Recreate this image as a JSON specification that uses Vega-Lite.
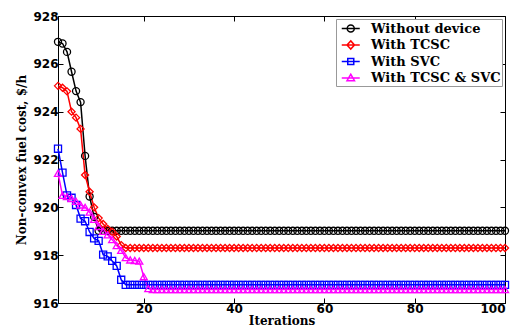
{
"$schema":"https://vega.github.io/schema/vega-lite/v6.json",
"width":447,"height":287,
"autosize":{"type":"none"},
"padding":{"left":58,"top":16,"right":15,"bottom":24},
"background":"white",
"config":{
"view":{"stroke":"#000","strokeWidth":1},
"axis":{"grid":false,"domainColor":"#000","tickColor":"#000","labelColor":"#000","titleColor":"#000","labelFont":"DejaVu Sans","labelFontWeight":"bold","labelFontSize":12,"titleFont":"DejaVu Serif","titleFontWeight":"bold","titleFontSize":12,"tickSize":-5,"labelPadding":5},
"legend":{"orient":"top-right","offset":3,"padding":1,"rowPadding":0.5,"symbolSize":225,"labelFont":"DejaVu Serif","labelFontWeight":"bold","labelFontSize":13,"labelColor":"#000","labelOffset":17,"strokeColor":"#999","fillColor":"#fff","symbolStrokeWidth":1.5}
},
"data":{"values":[
{"series":"Without device","iter":1,"cost":926.92},{"series":"Without device","iter":2,"cost":926.85},{"series":"Without device","iter":3,"cost":926.5},{"series":"Without device","iter":4,"cost":925.67},{"series":"Without device","iter":5,"cost":924.86},{"series":"Without device","iter":6,"cost":924.4},{"series":"Without device","iter":7,"cost":922.15},{"series":"Without device","iter":8,"cost":920.45},{"series":"Without device","iter":9,"cost":919.6},{"series":"Without device","iter":10,"cost":919.02},
{"series":"Without device","iter":11,"cost":919.02},{"series":"Without device","iter":12,"cost":919.02},{"series":"Without device","iter":13,"cost":919.02},{"series":"Without device","iter":14,"cost":919.02},{"series":"Without device","iter":15,"cost":919.02},{"series":"Without device","iter":16,"cost":919.02},{"series":"Without device","iter":17,"cost":919.02},{"series":"Without device","iter":18,"cost":919.02},{"series":"Without device","iter":19,"cost":919.02},{"series":"Without device","iter":20,"cost":919.02},
{"series":"Without device","iter":21,"cost":919.02},{"series":"Without device","iter":22,"cost":919.02},{"series":"Without device","iter":23,"cost":919.02},{"series":"Without device","iter":24,"cost":919.02},{"series":"Without device","iter":25,"cost":919.02},{"series":"Without device","iter":26,"cost":919.02},{"series":"Without device","iter":27,"cost":919.02},{"series":"Without device","iter":28,"cost":919.02},{"series":"Without device","iter":29,"cost":919.02},{"series":"Without device","iter":30,"cost":919.02},
{"series":"Without device","iter":31,"cost":919.02},{"series":"Without device","iter":32,"cost":919.02},{"series":"Without device","iter":33,"cost":919.02},{"series":"Without device","iter":34,"cost":919.02},{"series":"Without device","iter":35,"cost":919.02},{"series":"Without device","iter":36,"cost":919.02},{"series":"Without device","iter":37,"cost":919.02},{"series":"Without device","iter":38,"cost":919.02},{"series":"Without device","iter":39,"cost":919.02},{"series":"Without device","iter":40,"cost":919.02},
{"series":"Without device","iter":41,"cost":919.02},{"series":"Without device","iter":42,"cost":919.02},{"series":"Without device","iter":43,"cost":919.02},{"series":"Without device","iter":44,"cost":919.02},{"series":"Without device","iter":45,"cost":919.02},{"series":"Without device","iter":46,"cost":919.02},{"series":"Without device","iter":47,"cost":919.02},{"series":"Without device","iter":48,"cost":919.02},{"series":"Without device","iter":49,"cost":919.02},{"series":"Without device","iter":50,"cost":919.02},
{"series":"Without device","iter":51,"cost":919.02},{"series":"Without device","iter":52,"cost":919.02},{"series":"Without device","iter":53,"cost":919.02},{"series":"Without device","iter":54,"cost":919.02},{"series":"Without device","iter":55,"cost":919.02},{"series":"Without device","iter":56,"cost":919.02},{"series":"Without device","iter":57,"cost":919.02},{"series":"Without device","iter":58,"cost":919.02},{"series":"Without device","iter":59,"cost":919.02},{"series":"Without device","iter":60,"cost":919.02},
{"series":"Without device","iter":61,"cost":919.02},{"series":"Without device","iter":62,"cost":919.02},{"series":"Without device","iter":63,"cost":919.02},{"series":"Without device","iter":64,"cost":919.02},{"series":"Without device","iter":65,"cost":919.02},{"series":"Without device","iter":66,"cost":919.02},{"series":"Without device","iter":67,"cost":919.02},{"series":"Without device","iter":68,"cost":919.02},{"series":"Without device","iter":69,"cost":919.02},{"series":"Without device","iter":70,"cost":919.02},
{"series":"Without device","iter":71,"cost":919.02},{"series":"Without device","iter":72,"cost":919.02},{"series":"Without device","iter":73,"cost":919.02},{"series":"Without device","iter":74,"cost":919.02},{"series":"Without device","iter":75,"cost":919.02},{"series":"Without device","iter":76,"cost":919.02},{"series":"Without device","iter":77,"cost":919.02},{"series":"Without device","iter":78,"cost":919.02},{"series":"Without device","iter":79,"cost":919.02},{"series":"Without device","iter":80,"cost":919.02},
{"series":"Without device","iter":81,"cost":919.02},{"series":"Without device","iter":82,"cost":919.02},{"series":"Without device","iter":83,"cost":919.02},{"series":"Without device","iter":84,"cost":919.02},{"series":"Without device","iter":85,"cost":919.02},{"series":"Without device","iter":86,"cost":919.02},{"series":"Without device","iter":87,"cost":919.02},{"series":"Without device","iter":88,"cost":919.02},{"series":"Without device","iter":89,"cost":919.02},{"series":"Without device","iter":90,"cost":919.02},
{"series":"Without device","iter":91,"cost":919.02},{"series":"Without device","iter":92,"cost":919.02},{"series":"Without device","iter":93,"cost":919.02},{"series":"Without device","iter":94,"cost":919.02},{"series":"Without device","iter":95,"cost":919.02},{"series":"Without device","iter":96,"cost":919.02},{"series":"Without device","iter":97,"cost":919.02},{"series":"Without device","iter":98,"cost":919.02},{"series":"Without device","iter":99,"cost":919.02},{"series":"Without device","iter":100,"cost":919.02},
{"series":"With TCSC","iter":1,"cost":925.08},{"series":"With TCSC","iter":2,"cost":925.0},{"series":"With TCSC","iter":3,"cost":924.85},{"series":"With TCSC","iter":4,"cost":924.0},{"series":"With TCSC","iter":5,"cost":923.75},{"series":"With TCSC","iter":6,"cost":923.28},{"series":"With TCSC","iter":7,"cost":921.35},{"series":"With TCSC","iter":8,"cost":920.65},{"series":"With TCSC","iter":9,"cost":920.0},{"series":"With TCSC","iter":10,"cost":919.55},
{"series":"With TCSC","iter":11,"cost":919.3},{"series":"With TCSC","iter":12,"cost":919.1},{"series":"With TCSC","iter":13,"cost":918.98},{"series":"With TCSC","iter":14,"cost":918.78},{"series":"With TCSC","iter":15,"cost":918.42},{"series":"With TCSC","iter":16,"cost":918.3},{"series":"With TCSC","iter":17,"cost":918.3},{"series":"With TCSC","iter":18,"cost":918.3},{"series":"With TCSC","iter":19,"cost":918.3},{"series":"With TCSC","iter":20,"cost":918.3},
{"series":"With TCSC","iter":21,"cost":918.3},{"series":"With TCSC","iter":22,"cost":918.3},{"series":"With TCSC","iter":23,"cost":918.3},{"series":"With TCSC","iter":24,"cost":918.3},{"series":"With TCSC","iter":25,"cost":918.3},{"series":"With TCSC","iter":26,"cost":918.3},{"series":"With TCSC","iter":27,"cost":918.3},{"series":"With TCSC","iter":28,"cost":918.3},{"series":"With TCSC","iter":29,"cost":918.3},{"series":"With TCSC","iter":30,"cost":918.3},
{"series":"With TCSC","iter":31,"cost":918.3},{"series":"With TCSC","iter":32,"cost":918.3},{"series":"With TCSC","iter":33,"cost":918.3},{"series":"With TCSC","iter":34,"cost":918.3},{"series":"With TCSC","iter":35,"cost":918.3},{"series":"With TCSC","iter":36,"cost":918.3},{"series":"With TCSC","iter":37,"cost":918.3},{"series":"With TCSC","iter":38,"cost":918.3},{"series":"With TCSC","iter":39,"cost":918.3},{"series":"With TCSC","iter":40,"cost":918.3},
{"series":"With TCSC","iter":41,"cost":918.3},{"series":"With TCSC","iter":42,"cost":918.3},{"series":"With TCSC","iter":43,"cost":918.3},{"series":"With TCSC","iter":44,"cost":918.3},{"series":"With TCSC","iter":45,"cost":918.3},{"series":"With TCSC","iter":46,"cost":918.3},{"series":"With TCSC","iter":47,"cost":918.3},{"series":"With TCSC","iter":48,"cost":918.3},{"series":"With TCSC","iter":49,"cost":918.3},{"series":"With TCSC","iter":50,"cost":918.3},
{"series":"With TCSC","iter":51,"cost":918.3},{"series":"With TCSC","iter":52,"cost":918.3},{"series":"With TCSC","iter":53,"cost":918.3},{"series":"With TCSC","iter":54,"cost":918.3},{"series":"With TCSC","iter":55,"cost":918.3},{"series":"With TCSC","iter":56,"cost":918.3},{"series":"With TCSC","iter":57,"cost":918.3},{"series":"With TCSC","iter":58,"cost":918.3},{"series":"With TCSC","iter":59,"cost":918.3},{"series":"With TCSC","iter":60,"cost":918.3},
{"series":"With TCSC","iter":61,"cost":918.3},{"series":"With TCSC","iter":62,"cost":918.3},{"series":"With TCSC","iter":63,"cost":918.3},{"series":"With TCSC","iter":64,"cost":918.3},{"series":"With TCSC","iter":65,"cost":918.3},{"series":"With TCSC","iter":66,"cost":918.3},{"series":"With TCSC","iter":67,"cost":918.3},{"series":"With TCSC","iter":68,"cost":918.3},{"series":"With TCSC","iter":69,"cost":918.3},{"series":"With TCSC","iter":70,"cost":918.3},
{"series":"With TCSC","iter":71,"cost":918.3},{"series":"With TCSC","iter":72,"cost":918.3},{"series":"With TCSC","iter":73,"cost":918.3},{"series":"With TCSC","iter":74,"cost":918.3},{"series":"With TCSC","iter":75,"cost":918.3},{"series":"With TCSC","iter":76,"cost":918.3},{"series":"With TCSC","iter":77,"cost":918.3},{"series":"With TCSC","iter":78,"cost":918.3},{"series":"With TCSC","iter":79,"cost":918.3},{"series":"With TCSC","iter":80,"cost":918.3},
{"series":"With TCSC","iter":81,"cost":918.3},{"series":"With TCSC","iter":82,"cost":918.3},{"series":"With TCSC","iter":83,"cost":918.3},{"series":"With TCSC","iter":84,"cost":918.3},{"series":"With TCSC","iter":85,"cost":918.3},{"series":"With TCSC","iter":86,"cost":918.3},{"series":"With TCSC","iter":87,"cost":918.3},{"series":"With TCSC","iter":88,"cost":918.3},{"series":"With TCSC","iter":89,"cost":918.3},{"series":"With TCSC","iter":90,"cost":918.3},
{"series":"With TCSC","iter":91,"cost":918.3},{"series":"With TCSC","iter":92,"cost":918.3},{"series":"With TCSC","iter":93,"cost":918.3},{"series":"With TCSC","iter":94,"cost":918.3},{"series":"With TCSC","iter":95,"cost":918.3},{"series":"With TCSC","iter":96,"cost":918.3},{"series":"With TCSC","iter":97,"cost":918.3},{"series":"With TCSC","iter":98,"cost":918.3},{"series":"With TCSC","iter":99,"cost":918.3},{"series":"With TCSC","iter":100,"cost":918.3},
{"series":"With SVC","iter":1,"cost":922.45},{"series":"With SVC","iter":2,"cost":921.45},{"series":"With SVC","iter":3,"cost":920.5},{"series":"With SVC","iter":4,"cost":920.4},{"series":"With SVC","iter":5,"cost":920.1},{"series":"With SVC","iter":6,"cost":919.53},{"series":"With SVC","iter":7,"cost":919.42},{"series":"With SVC","iter":8,"cost":918.97},{"series":"With SVC","iter":9,"cost":918.7},{"series":"With SVC","iter":10,"cost":918.6},
{"series":"With SVC","iter":11,"cost":918.02},{"series":"With SVC","iter":12,"cost":917.95},{"series":"With SVC","iter":13,"cost":917.76},{"series":"With SVC","iter":14,"cost":917.55},{"series":"With SVC","iter":15,"cost":916.97},{"series":"With SVC","iter":16,"cost":916.76},{"series":"With SVC","iter":17,"cost":916.76},{"series":"With SVC","iter":18,"cost":916.76},{"series":"With SVC","iter":19,"cost":916.76},{"series":"With SVC","iter":20,"cost":916.76},
{"series":"With SVC","iter":21,"cost":916.76},{"series":"With SVC","iter":22,"cost":916.76},{"series":"With SVC","iter":23,"cost":916.76},{"series":"With SVC","iter":24,"cost":916.76},{"series":"With SVC","iter":25,"cost":916.76},{"series":"With SVC","iter":26,"cost":916.76},{"series":"With SVC","iter":27,"cost":916.76},{"series":"With SVC","iter":28,"cost":916.76},{"series":"With SVC","iter":29,"cost":916.76},{"series":"With SVC","iter":30,"cost":916.76},
{"series":"With SVC","iter":31,"cost":916.76},{"series":"With SVC","iter":32,"cost":916.76},{"series":"With SVC","iter":33,"cost":916.76},{"series":"With SVC","iter":34,"cost":916.76},{"series":"With SVC","iter":35,"cost":916.76},{"series":"With SVC","iter":36,"cost":916.76},{"series":"With SVC","iter":37,"cost":916.76},{"series":"With SVC","iter":38,"cost":916.76},{"series":"With SVC","iter":39,"cost":916.76},{"series":"With SVC","iter":40,"cost":916.76},
{"series":"With SVC","iter":41,"cost":916.76},{"series":"With SVC","iter":42,"cost":916.76},{"series":"With SVC","iter":43,"cost":916.76},{"series":"With SVC","iter":44,"cost":916.76},{"series":"With SVC","iter":45,"cost":916.76},{"series":"With SVC","iter":46,"cost":916.76},{"series":"With SVC","iter":47,"cost":916.76},{"series":"With SVC","iter":48,"cost":916.76},{"series":"With SVC","iter":49,"cost":916.76},{"series":"With SVC","iter":50,"cost":916.76},
{"series":"With SVC","iter":51,"cost":916.76},{"series":"With SVC","iter":52,"cost":916.76},{"series":"With SVC","iter":53,"cost":916.76},{"series":"With SVC","iter":54,"cost":916.76},{"series":"With SVC","iter":55,"cost":916.76},{"series":"With SVC","iter":56,"cost":916.76},{"series":"With SVC","iter":57,"cost":916.76},{"series":"With SVC","iter":58,"cost":916.76},{"series":"With SVC","iter":59,"cost":916.76},{"series":"With SVC","iter":60,"cost":916.76},
{"series":"With SVC","iter":61,"cost":916.76},{"series":"With SVC","iter":62,"cost":916.76},{"series":"With SVC","iter":63,"cost":916.76},{"series":"With SVC","iter":64,"cost":916.76},{"series":"With SVC","iter":65,"cost":916.76},{"series":"With SVC","iter":66,"cost":916.76},{"series":"With SVC","iter":67,"cost":916.76},{"series":"With SVC","iter":68,"cost":916.76},{"series":"With SVC","iter":69,"cost":916.76},{"series":"With SVC","iter":70,"cost":916.76},
{"series":"With SVC","iter":71,"cost":916.76},{"series":"With SVC","iter":72,"cost":916.76},{"series":"With SVC","iter":73,"cost":916.76},{"series":"With SVC","iter":74,"cost":916.76},{"series":"With SVC","iter":75,"cost":916.76},{"series":"With SVC","iter":76,"cost":916.76},{"series":"With SVC","iter":77,"cost":916.76},{"series":"With SVC","iter":78,"cost":916.76},{"series":"With SVC","iter":79,"cost":916.76},{"series":"With SVC","iter":80,"cost":916.76},
{"series":"With SVC","iter":81,"cost":916.76},{"series":"With SVC","iter":82,"cost":916.76},{"series":"With SVC","iter":83,"cost":916.76},{"series":"With SVC","iter":84,"cost":916.76},{"series":"With SVC","iter":85,"cost":916.76},{"series":"With SVC","iter":86,"cost":916.76},{"series":"With SVC","iter":87,"cost":916.76},{"series":"With SVC","iter":88,"cost":916.76},{"series":"With SVC","iter":89,"cost":916.76},{"series":"With SVC","iter":90,"cost":916.76},
{"series":"With SVC","iter":91,"cost":916.76},{"series":"With SVC","iter":92,"cost":916.76},{"series":"With SVC","iter":93,"cost":916.76},{"series":"With SVC","iter":94,"cost":916.76},{"series":"With SVC","iter":95,"cost":916.76},{"series":"With SVC","iter":96,"cost":916.76},{"series":"With SVC","iter":97,"cost":916.76},{"series":"With SVC","iter":98,"cost":916.76},{"series":"With SVC","iter":99,"cost":916.76},{"series":"With SVC","iter":100,"cost":916.76},
{"series":"With TCSC & SVC","iter":1,"cost":921.42},{"series":"With TCSC & SVC","iter":2,"cost":920.5},{"series":"With TCSC & SVC","iter":3,"cost":920.45},{"series":"With TCSC & SVC","iter":4,"cost":920.37},{"series":"With TCSC & SVC","iter":5,"cost":920.25},{"series":"With TCSC & SVC","iter":6,"cost":920.1},{"series":"With TCSC & SVC","iter":7,"cost":920.0},{"series":"With TCSC & SVC","iter":8,"cost":919.8},{"series":"With TCSC & SVC","iter":9,"cost":919.5},{"series":"With TCSC & SVC","iter":10,"cost":919.2},
{"series":"With TCSC & SVC","iter":11,"cost":919.0},{"series":"With TCSC & SVC","iter":12,"cost":918.85},{"series":"With TCSC & SVC","iter":13,"cost":918.65},{"series":"With TCSC & SVC","iter":14,"cost":918.4},{"series":"With TCSC & SVC","iter":15,"cost":918.2},{"series":"With TCSC & SVC","iter":16,"cost":917.9},{"series":"With TCSC & SVC","iter":17,"cost":917.8},{"series":"With TCSC & SVC","iter":18,"cost":917.78},{"series":"With TCSC & SVC","iter":19,"cost":917.75},{"series":"With TCSC & SVC","iter":20,"cost":917.1},
{"series":"With TCSC & SVC","iter":21,"cost":916.6},{"series":"With TCSC & SVC","iter":22,"cost":916.56},{"series":"With TCSC & SVC","iter":23,"cost":916.56},{"series":"With TCSC & SVC","iter":24,"cost":916.56},{"series":"With TCSC & SVC","iter":25,"cost":916.56},{"series":"With TCSC & SVC","iter":26,"cost":916.56},{"series":"With TCSC & SVC","iter":27,"cost":916.56},{"series":"With TCSC & SVC","iter":28,"cost":916.56},{"series":"With TCSC & SVC","iter":29,"cost":916.56},{"series":"With TCSC & SVC","iter":30,"cost":916.56},
{"series":"With TCSC & SVC","iter":31,"cost":916.56},{"series":"With TCSC & SVC","iter":32,"cost":916.56},{"series":"With TCSC & SVC","iter":33,"cost":916.56},{"series":"With TCSC & SVC","iter":34,"cost":916.56},{"series":"With TCSC & SVC","iter":35,"cost":916.56},{"series":"With TCSC & SVC","iter":36,"cost":916.56},{"series":"With TCSC & SVC","iter":37,"cost":916.56},{"series":"With TCSC & SVC","iter":38,"cost":916.56},{"series":"With TCSC & SVC","iter":39,"cost":916.56},{"series":"With TCSC & SVC","iter":40,"cost":916.56},
{"series":"With TCSC & SVC","iter":41,"cost":916.56},{"series":"With TCSC & SVC","iter":42,"cost":916.56},{"series":"With TCSC & SVC","iter":43,"cost":916.56},{"series":"With TCSC & SVC","iter":44,"cost":916.56},{"series":"With TCSC & SVC","iter":45,"cost":916.56},{"series":"With TCSC & SVC","iter":46,"cost":916.56},{"series":"With TCSC & SVC","iter":47,"cost":916.56},{"series":"With TCSC & SVC","iter":48,"cost":916.56},{"series":"With TCSC & SVC","iter":49,"cost":916.56},{"series":"With TCSC & SVC","iter":50,"cost":916.56},
{"series":"With TCSC & SVC","iter":51,"cost":916.56},{"series":"With TCSC & SVC","iter":52,"cost":916.56},{"series":"With TCSC & SVC","iter":53,"cost":916.56},{"series":"With TCSC & SVC","iter":54,"cost":916.56},{"series":"With TCSC & SVC","iter":55,"cost":916.56},{"series":"With TCSC & SVC","iter":56,"cost":916.56},{"series":"With TCSC & SVC","iter":57,"cost":916.56},{"series":"With TCSC & SVC","iter":58,"cost":916.56},{"series":"With TCSC & SVC","iter":59,"cost":916.56},{"series":"With TCSC & SVC","iter":60,"cost":916.56},
{"series":"With TCSC & SVC","iter":61,"cost":916.56},{"series":"With TCSC & SVC","iter":62,"cost":916.56},{"series":"With TCSC & SVC","iter":63,"cost":916.56},{"series":"With TCSC & SVC","iter":64,"cost":916.56},{"series":"With TCSC & SVC","iter":65,"cost":916.56},{"series":"With TCSC & SVC","iter":66,"cost":916.56},{"series":"With TCSC & SVC","iter":67,"cost":916.56},{"series":"With TCSC & SVC","iter":68,"cost":916.56},{"series":"With TCSC & SVC","iter":69,"cost":916.56},{"series":"With TCSC & SVC","iter":70,"cost":916.56},
{"series":"With TCSC & SVC","iter":71,"cost":916.56},{"series":"With TCSC & SVC","iter":72,"cost":916.56},{"series":"With TCSC & SVC","iter":73,"cost":916.56},{"series":"With TCSC & SVC","iter":74,"cost":916.56},{"series":"With TCSC & SVC","iter":75,"cost":916.56},{"series":"With TCSC & SVC","iter":76,"cost":916.56},{"series":"With TCSC & SVC","iter":77,"cost":916.56},{"series":"With TCSC & SVC","iter":78,"cost":916.56},{"series":"With TCSC & SVC","iter":79,"cost":916.56},{"series":"With TCSC & SVC","iter":80,"cost":916.56},
{"series":"With TCSC & SVC","iter":81,"cost":916.56},{"series":"With TCSC & SVC","iter":82,"cost":916.56},{"series":"With TCSC & SVC","iter":83,"cost":916.56},{"series":"With TCSC & SVC","iter":84,"cost":916.56},{"series":"With TCSC & SVC","iter":85,"cost":916.56},{"series":"With TCSC & SVC","iter":86,"cost":916.56},{"series":"With TCSC & SVC","iter":87,"cost":916.56},{"series":"With TCSC & SVC","iter":88,"cost":916.56},{"series":"With TCSC & SVC","iter":89,"cost":916.56},{"series":"With TCSC & SVC","iter":90,"cost":916.56},
{"series":"With TCSC & SVC","iter":91,"cost":916.56},{"series":"With TCSC & SVC","iter":92,"cost":916.56},{"series":"With TCSC & SVC","iter":93,"cost":916.56},{"series":"With TCSC & SVC","iter":94,"cost":916.56},{"series":"With TCSC & SVC","iter":95,"cost":916.56},{"series":"With TCSC & SVC","iter":96,"cost":916.56},{"series":"With TCSC & SVC","iter":97,"cost":916.56},{"series":"With TCSC & SVC","iter":98,"cost":916.56},{"series":"With TCSC & SVC","iter":99,"cost":916.56},{"series":"With TCSC & SVC","iter":100,"cost":916.56}
]},
"resolve":{"scale":{"color":"independent","shape":"independent"},"axis":{"x":"independent","y":"independent"}},
"layer":[
{"mark":{"type":"line","strokeWidth":1.5},
 "encoding":{
  "x":{"field":"iter","type":"quantitative","scale":{"domain":[1,100],"nice":false,"zero":false},"axis":{"orient":"bottom","values":[20,40,60,80,100],"title":"Iterations","titlePadding":1}},
  "y":{"field":"cost","type":"quantitative","scale":{"domain":[916,928],"nice":false,"zero":false},"axis":{"orient":"left","values":[916,918,920,922,924,926,928],"title":"Non-convex fuel cost, $/h","titlePadding":4}},
  "color":{"field":"series","type":"nominal","scale":{"domain":["Without device","With TCSC","With SVC","With TCSC & SVC"],"range":["#000000","#ff0000","#0000ff","#ff00ff"]},"legend":null}}},
{"mark":{"type":"point","filled":false,"size":50,"strokeWidth":1.3,"opacity":1},
 "encoding":{
  "x":{"field":"iter","type":"quantitative","axis":{"orient":"top","labels":false,"title":null,"values":[20,40,60,80,100],"domain":false}},
  "y":{"field":"cost","type":"quantitative","axis":{"orient":"right","labels":false,"title":null,"values":[916,918,920,922,924,926,928],"domain":false}},
  "color":{"field":"series","type":"nominal","scale":{"domain":["Without device","With TCSC","With SVC","With TCSC & SVC"],"range":["#000000","#ff0000","#0000ff","#ff00ff"]},"legend":null},
  "shape":{"field":"series","type":"nominal","scale":{"domain":["Without device","With TCSC","With SVC","With TCSC & SVC"],"range":["circle","diamond","square","triangle-up"]},"legend":null}}},
{"transform":[{"filter":"datum.iter > 1000"}],
 "mark":{"type":"point","filled":false,"strokeWidth":1.5,"opacity":1},
 "encoding":{
  "x":{"field":"iter","type":"quantitative","axis":null},
  "y":{"field":"cost","type":"quantitative","axis":null},
  "color":{"field":"series","type":"nominal","scale":{"domain":["Without device","With TCSC","With SVC","With TCSC & SVC"],"range":["#000000","#ff0000","#0000ff","#ff00ff"]},"legend":{"title":null}},
  "shape":{"field":"series","type":"nominal","scale":{"domain":["Without device","With TCSC","With SVC","With TCSC & SVC"],"range":["M-0.5,0L1.9,0M1.17,0A0.47,0.47,0,1,1,0.23,0A0.47,0.47,0,1,1,1.17,0Z","M-0.5,0L1.9,0M0.7,-0.55L1.2,0L0.7,0.55L0.2,0Z","M-0.5,0L1.9,0M0.3,-0.4L1.1,-0.4L1.1,0.4L0.3,0.4Z","M-0.5,0L1.9,0M0.7,-0.5L1.2,0.35L0.2,0.35Z"]},"legend":{"title":null}}}}
]
}
